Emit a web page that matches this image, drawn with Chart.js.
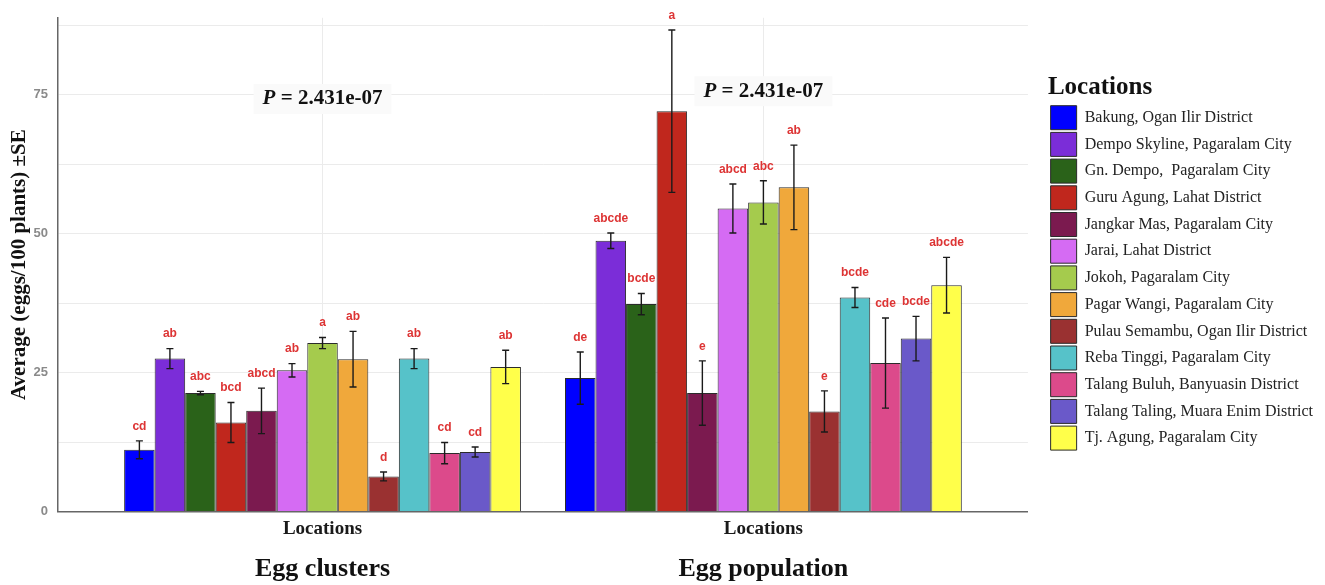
<!DOCTYPE html>
<html lang="en">
<head>
    <meta charset="UTF-8">
    <title>Egg clusters and egg population by location</title>
    <script src="https://cdn.jsdelivr.net/npm/chart.js"></script>
    <style>
        body { margin: 0; background: #fff; }
        canvas { display: block; }
    </style>
</head>
<body>
    <canvas id="eggChart" width="1325" height="585"></canvas>
    <script>
        // values (eggs / 100 plants, mean and SE)
        const locations = [
            'Bakung, Ogan Ilir District',
            'Dempo Skyline, Pagaralam City',
            'Gn. Dempo,  Pagaralam City',
            'Guru Agung, Lahat District',
            'Jangkar Mas, Pagaralam City',
            'Jarai, Lahat District',
            'Jokoh, Pagaralam City',
            'Pagar Wangi, Pagaralam City',
            'Pulau Semambu, Ogan Ilir District',
            'Reba Tinggi, Pagaralam City',
            'Talang Buluh, Banyuasin District',
            'Talang Taling, Muara Enim District',
            'Tj. Agung, Pagaralam City'
        ];
        const colors = ['#0000ff', '#7b2dd8', '#2a6219', '#c0271d', '#7b1a4f', '#d56bf3', '#a5cb4d',
            '#f0a83b', '#9a3131', '#56c2c9', '#dc4a8b', '#6a59c9', '#ffff4a'];

        const groups = ['Egg clusters', 'Egg population'];
        const pValues = ['2.431e-07', '2.431e-07'];

        const clusterMeans = [11.1, 27.5, 21.3, 16.0, 18.1, 25.4, 30.3, 27.4, 6.3, 27.5, 10.5, 10.7, 26.0];
        const clusterSE = [1.6, 1.8, 0.3, 3.6, 4.1, 1.2, 1.0, 5.0, 0.8, 1.8, 1.9, 0.9, 3.0];
        const clusterLetters = ['cd', 'ab', 'abc', 'bcd', 'abcd', 'ab', 'a', 'ab', 'd', 'ab', 'cd', 'cd', 'ab'];

        const popMeans = [24.0, 48.7, 37.3, 72.0, 21.3, 54.5, 55.6, 58.3, 18.0, 38.5, 26.7, 31.1, 40.7];
        const popSE = [4.7, 1.4, 1.9, 14.6, 5.8, 4.4, 3.9, 7.6, 3.7, 1.8, 8.1, 4.0, 5.0];
        const popLetters = ['de', 'abcde', 'bcde', 'a', 'e', 'abcd', 'abc', 'ab', 'e', 'bcde', 'cde', 'bcde', 'abcde'];

        const yTicks = [0, 25, 50, 75];
        const yGrid = [0, 12.5, 25, 37.5, 50, 62.5, 75, 87.5];

        const means = [clusterMeans, popMeans];
        const errors = [clusterSE, popSE];
        const letters = [clusterLetters, popLetters];

        const SERIF = '"Liberation Serif", "Times New Roman", serif';
        const SANS = '"Liberation Sans", Arial, sans-serif';
        const LEGEND_GAP = 20;

        // error bars + significance letters on top of the bars
        const errorBarPlugin = {
            id: 'errorBars',
            afterDatasetsDraw(chart) {
                const ctx = chart.ctx;
                const y = chart.scales.y;
                ctx.save();
                chart.data.datasets.forEach((ds, i) => {
                    const meta = chart.getDatasetMeta(i);
                    meta.data.forEach((bar, g) => {
                        const m = means[g][i], se = errors[g][i];
                        const top = y.getPixelForValue(m + se);
                        const bot = y.getPixelForValue(m - se);
                        ctx.strokeStyle = '#1a1a1a';
                        ctx.lineWidth = 1.4;
                        ctx.beginPath();
                        ctx.moveTo(bar.x, top); ctx.lineTo(bar.x, bot);
                        ctx.moveTo(bar.x - 3.5, top); ctx.lineTo(bar.x + 3.5, top);
                        ctx.moveTo(bar.x - 3.5, bot); ctx.lineTo(bar.x + 3.5, bot);
                        ctx.stroke();

                        ctx.fillStyle = '#dd3434';
                        ctx.font = 'bold 12px ' + SANS;
                        ctx.textAlign = 'center';
                        ctx.textBaseline = 'middle';
                        ctx.fillText(letters[g][i], bar.x, y.getPixelForValue(m + se + 2.6));
                    });
                });
                ctx.restore();
            }
        };

        // P value notes and the group titles under the axis
        const annotationPlugin = {
            id: 'groupNotes',
            afterDraw(chart) {
                const ctx = chart.ctx;
                const x = chart.scales.x;
                const y = chart.scales.y;
                const pAt = [74.2, 75.6];
                ctx.save();
                groups.forEach((name, g) => {
                    const cx = x.getPixelForValue(g + 1);

                    const cy = y.getPixelForValue(pAt[g]);
                    const fontP = 'italic bold 21px ' + SERIF;
                    const fontRest = 'bold 21px ' + SERIF;
                    const rest = ' = ' + pValues[g];
                    ctx.font = fontP;
                    const wP = ctx.measureText('P').width;
                    ctx.font = fontRest;
                    const wR = ctx.measureText(rest).width;
                    const left = cx - (wP + wR) / 2;
                    ctx.fillStyle = 'rgba(250,250,250,1)';
                    ctx.fillRect(left - 9, cy - 15, wP + wR + 18, 30);
                    ctx.fillStyle = '#111';
                    ctx.textBaseline = 'middle';
                    ctx.textAlign = 'left';
                    ctx.font = fontP;
                    ctx.fillText('P', left, cy);
                    ctx.font = fontRest;
                    ctx.fillText(rest, left + wP, cy);

                    ctx.textAlign = 'center';
                    ctx.font = 'bold 26px ' + SERIF;
                    ctx.fillText(name, cx, 569);
                });
                ctx.restore();
            }
        };

        // leave some white space between the plot and the legend
        const legendGapPlugin = {
            id: 'legendGap',
            afterInit(chart) {
                const lg = chart.legend;
                const fit = lg.fit.bind(lg);
                const draw = lg.draw.bind(lg);
                lg.fit = function () { fit(); this.width += LEGEND_GAP; };
                lg.draw = function () {
                    const c = this.ctx;
                    c.save();
                    c.translate(LEGEND_GAP, 0);
                    draw();
                    c.restore();
                };
            }
        };

        const datasets = locations.map((loc, i) => ({
            label: loc,
            data: groups.map((_, g) => ({ x: g + 1, y: means[g][i] })),
            backgroundColor: colors[i],
            borderColor: '#2b2b2b',
            borderWidth: 1,
            categoryPercentage: 0.9,
            barPercentage: 1.0
        }));

        new Chart(document.getElementById('eggChart'), {
            type: 'bar',
            data: { datasets },
            options: {
                responsive: false,
                animation: false,
                devicePixelRatio: 1,
                layout: { padding: { top: 14, right: 2, bottom: 0, left: 0 } },
                scales: {
                    x: {
                        type: 'linear',
                        min: 0.4,
                        max: 2.6,
                        offset: false,
                        afterBuildTicks: (s) => { s.ticks = groups.map((_, g) => ({ value: g + 1 })); },
                        afterFit: (s) => { s.height = 73.5; },
                        ticks: {
                            callback: () => 'Locations',
                            color: '#1a1a1a',
                            font: { family: SERIF, size: 19, weight: 'bold' },
                            padding: 6,
                            maxRotation: 0
                        },
                        grid: { color: '#ebebeb', offset: false, drawTicks: false },
                        border: { color: '#666', width: 1.5 }
                    },
                    y: {
                        min: 0,
                        max: 88.8,
                        afterBuildTicks: (s) => { s.ticks = yGrid.map(v => ({ value: v })); },
                        afterFit: (s) => { s.width = 58; },
                        ticks: {
                            callback: (v) => yTicks.includes(v) ? v : '',
                            color: '#8a8a8a',
                            font: { family: SANS, size: 13, weight: 'bold' },
                            padding: 10
                        },
                        grid: { color: '#ebebeb', drawTicks: false },
                        border: { color: '#666', width: 1.5 },
                        title: {
                            display: true,
                            text: 'Average (eggs/100 plants) ±SE',
                            color: '#111',
                            font: { family: SERIF, size: 21, weight: 'bold' },
                            padding: { top: 7, bottom: 0 }
                        }
                    }
                },
                plugins: {
                    legend: {
                        position: 'right',
                        align: 'start',
                        title: {
                            display: true,
                            text: 'Locations',
                            position: 'start',
                            color: '#111',
                            font: { family: SERIF, size: 25, weight: 'bold', lineHeight: 1.1 },
                            padding: { top: 61.5, bottom: 0 }
                        },
                        labels: {
                            boxWidth: 26,
                            boxHeight: 24,
                            padding: 2.7,
                            color: '#222',
                            font: { family: SERIF, size: 16 }
                        }
                    },
                    tooltip: { enabled: false }
                }
            },
            plugins: [errorBarPlugin, annotationPlugin, legendGapPlugin]
        });
    </script>
</body>
</html>
